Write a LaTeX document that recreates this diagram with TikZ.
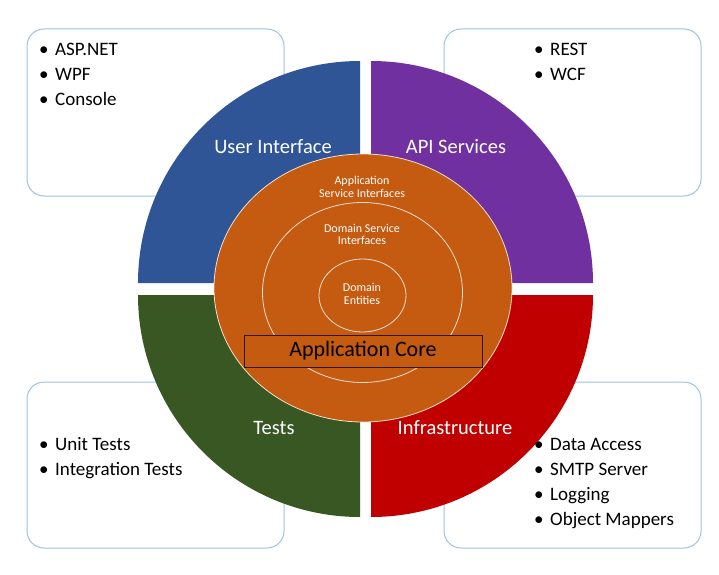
\documentclass[tikz,border=0pt]{standalone}
\usepackage{fontspec}
\setmainfont{Carlito}
\usepackage{xcolor}
\usepackage{tikz}
\usetikzlibrary{positioning}

\definecolor{uiblue}{HTML}{2F5597}
\definecolor{apipurple}{HTML}{7030A0}
\definecolor{testgreen}{HTML}{385723}
\definecolor{infrared}{HTML}{C00000}
\definecolor{coreorange}{HTML}{C55A11}
\definecolor{boxblue}{HTML}{9DC3E6}

\tikzset{
  listbox/.style={draw=boxblue, line width=1pt, fill=white, rounded corners=17pt},
  ringlabel/.style={text=white, font=\fontsize{20.5}{24}\selectfont},
  layer/.style={draw=white!80!coreorange, line width=0.8pt, fill=coreorange},
  layerlabel/.style={text=white, align=center, font=\fontsize{12}{12.5}\selectfont},
  item/.style={anchor=base west, inner sep=0pt, font=\fontsize{19}{22}\selectfont},
}
\newcommand{\bul}[1]{\makebox[16pt][l]{\textbullet}#1}

\begin{document}
\begin{tikzpicture}[x=1pt,y=1pt]
\useasboundingbox (0,0) rectangle (719,574);

% list boxes
\draw[listbox] (27,378) rectangle (284,545);
\draw[listbox] (444,378) rectangle (701,545);
\draw[listbox] (27,26) rectangle (284,192);
\draw[listbox] (444,26) rectangle (701,192);

% quadrants
\coordinate (UI) at (360,291);
\coordinate (API) at (371,291);
\coordinate (TST) at (360,279);
\coordinate (INF) at (371,279);

\fill[uiblue] (UI) -- ++(-222,0) arc[start angle=180, end angle=90, radius=222pt] -- cycle;
\fill[apipurple] (API) -- ++(222,0) arc[start angle=0, end angle=90, radius=222pt] -- cycle;
\fill[testgreen] (TST) -- ++(-222,0) arc[start angle=180, end angle=270, radius=222pt] -- cycle;
\fill[infrared] (INF) -- ++(222,0) arc[start angle=0, end angle=-90, radius=222pt] -- cycle;

% core layers
\draw[layer] (363,286) ellipse[x radius=149pt, y radius=134pt];
\draw[layer] (362.5,281.5) ellipse[x radius=100pt, y radius=90pt];
\draw[layer] (362.5,278.5) ellipse[x radius=43.5pt, y radius=36.5pt];

\node[layerlabel] (appsvc) at (362,387) {Application\\Service Interfaces};
\node[layerlabel] (domsvc) at (362,339.5) {Domain Service\\Interfaces};
\node[layerlabel] (entities) at (362,280) {Domain\\Entities};

\node[draw=coreorange!25!black, line width=1pt, fill=coreorange, minimum width=238pt, minimum height=32pt,
  font=\fontsize{22}{25}\selectfont, text=black] (core) at (363,223) {Application Core};

% ring labels
\node[ringlabel] (ui) at (273,427) {User Interface};
\node[ringlabel] (api) at (456,427) {API Services};
\node[ringlabel] (tests) at (274,146) {Tests};
\node[ringlabel] (infra) at (455,146) {Infrastructure};

% lists
\node[item] (asp) at (39,518) {\bul{ASP.NET}};
\node[item] (wpf) at (39,493) {\bul{WPF}};
\node[item] (console) at (39,468) {\bul{Console}};

\node[item] (rest) at (534,518) {\bul{REST}};
\node[item] (wcf) at (534,493) {\bul{WCF}};

\node[item] (unit) at (39,124) {\bul{Unit Tests}};
\node[item] (integ) at (39,99) {\bul{Integration Tests}};

\node[item] (data) at (534,124) {\bul{Data Access}};
\node[item] (smtp) at (534,99) {\bul{SMTP Server}};
\node[item] (logging) at (534,74) {\bul{Logging}};
\node[item] (mappers) at (534,49) {\bul{Object Mappers}};
\end{tikzpicture}
\end{document}
